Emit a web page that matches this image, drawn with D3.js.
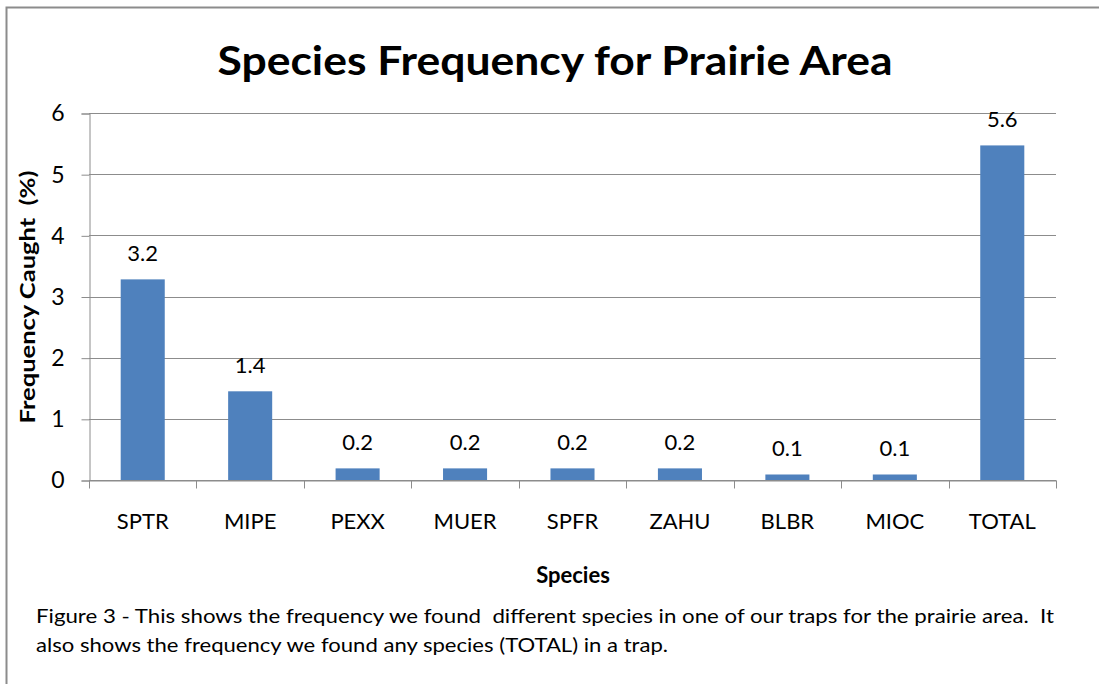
<!DOCTYPE html>
<html>
<head>
<meta charset="utf-8">
<script src="https://cdn.jsdelivr.net/npm/d3@7"></script>
<style>
  body { margin: 0; background: #fff; }
  text { font-family: Lato, "Open Sans", sans-serif; fill: #000; }
</style>
</head>
<body>
<div id="chart"></div>
<script>
// data
let species = ["SPTR", "MIPE", "PEXX", "MUER", "SPFR", "ZAHU", "BLBR", "MIOC", "TOTAL"];
let freq = [3.28, 1.45, 0.19, 0.19, 0.19, 0.19, 0.09, 0.09, 5.47];
let freqLabels = ["3.2", "1.4", "0.2", "0.2", "0.2", "0.2", "0.1", "0.1", "5.6"];
let yTicks = [0, 1, 2, 3, 4, 5, 6];

let title = "Species Frequency for Prairie Area";
let yTitle = "Frequency Caught  (%)";
let xTitle = "Species";
let caption = [
  "Figure 3 - This shows the frequency we found  different species in one of our traps for the prairie area.  It",
  "also shows the frequency we found any species (TOTAL) in a trap."
];

let width = 1099, height = 684;
// plot area
let plot = {left: 89, right: 1056, top: 113, bottom: 480};

let svg = d3.select("#chart").append("svg")
  .attr("width", width)
  .attr("height", height);

// outer frame of the chart
svg.append("rect")
  .attr("x", 6.5).attr("y", 7.5)
  .attr("width", 1200).attr("height", 1000)
  .attr("fill", "none")
  .attr("stroke", "#8c8c8c")
  .attr("stroke-width", 2);

let xScale = d3.scaleBand()
  .domain(species)
  .range([plot.left, plot.right])
  .paddingInner(0.59)
  .paddingOuter(0.295);

let yScale = d3.scaleLinear()
  .domain([0, 6])
  .range([plot.bottom, plot.top]);

// gridlines
svg.append("g").attr("class", "grid")
  .selectAll("line")
  .data(yTicks)
  .enter().append("line")
  .attr("x1", plot.left).attr("x2", plot.right)
  .attr("y1", d => Math.round(yScale(d)) + 0.5)
  .attr("y2", d => Math.round(yScale(d)) + 0.5)
  .attr("stroke", "#8c8c8c");

// y axis
let yAxis = svg.append("g")
  .attr("transform", "translate(" + (plot.left + 0.5) + ",0.5)")
  .call(d3.axisLeft(yScale).tickValues(yTicks).tickSize(8).tickPadding(17)
    .tickFormat(d3.format("d")));
yAxis.select(".domain").attr("stroke", "#8c8c8c");
yAxis.selectAll(".tick line").attr("stroke", "#8c8c8c");
yAxis.selectAll(".tick text")
  .style("font-family", "Lato, sans-serif")
  .attr("font-size", 23)
  .attr("fill", "#000");

// x axis: labels under bars, ticks on category boundaries
let xAxis = svg.append("g")
  .attr("transform", "translate(0," + (plot.bottom + 0.5) + ")")
  .call(d3.axisBottom(xScale).tickSize(0).tickPadding(33));
xAxis.select(".domain").attr("stroke", "#8c8c8c");
xAxis.selectAll(".tick text")
  .style("font-family", "Lato, sans-serif")
  .attr("font-size", 22)
  .attr("fill", "#000");

let bounds = d3.range(species.length + 1).map(i => plot.left + i * xScale.step());
xAxis.selectAll(".bound")
  .data(bounds)
  .enter().append("line")
  .attr("class", "bound")
  .attr("x1", d => Math.round(d) + 0.5).attr("x2", d => Math.round(d) + 0.5)
  .attr("y1", 0).attr("y2", 8)
  .attr("stroke", "#8c8c8c");

// bars
svg.append("g")
  .selectAll("rect")
  .data(freq)
  .enter().append("rect")
  .attr("x", (d, i) => xScale(species[i]))
  .attr("y", d => yScale(d))
  .attr("width", xScale.bandwidth())
  .attr("height", d => plot.bottom - yScale(d))
  .attr("fill", "#4f81bd");

// value labels
svg.append("g")
  .selectAll("text")
  .data(freq)
  .enter().append("text")
  .attr("x", (d, i) => xScale(species[i]) + xScale.bandwidth() / 2)
  .attr("y", d => yScale(d) - 18)
  .attr("text-anchor", "middle")
  .attr("font-size", 22)
  .text((d, i) => freqLabels[i]);

// titles
svg.append("text")
  .attr("x", 555).attr("y", 75)
  .attr("text-anchor", "middle")
  .attr("font-size", 40)
  .attr("font-weight", "bold")
  .attr("textLength", 675)
  .attr("lengthAdjust", "spacingAndGlyphs")
  .text(title);

svg.append("text")
  .attr("transform", "translate(35,297) rotate(-90)")
  .attr("text-anchor", "middle")
  .attr("font-size", 20)
  .attr("font-weight", "bold")
  .style("white-space", "pre")
  .attr("textLength", 253)
  .attr("lengthAdjust", "spacingAndGlyphs")
  .text(yTitle);

svg.append("text")
  .attr("x", 573).attr("y", 583)
  .attr("text-anchor", "middle")
  .attr("font-size", 22)
  .attr("font-weight", "bold")
  .text(xTitle);

// caption under the chart
let capLens = [1018, 632];
svg.append("g")
  .selectAll("text")
  .data(caption)
  .enter().append("text")
  .attr("x", 36)
  .attr("y", (d, i) => 623 + i * 29)
  .attr("font-size", 20)
  .style("white-space", "pre")
  .attr("textLength", (d, i) => capLens[i])
  .attr("lengthAdjust", "spacingAndGlyphs")
  .text(d => d);
</script>
</body>
</html>
